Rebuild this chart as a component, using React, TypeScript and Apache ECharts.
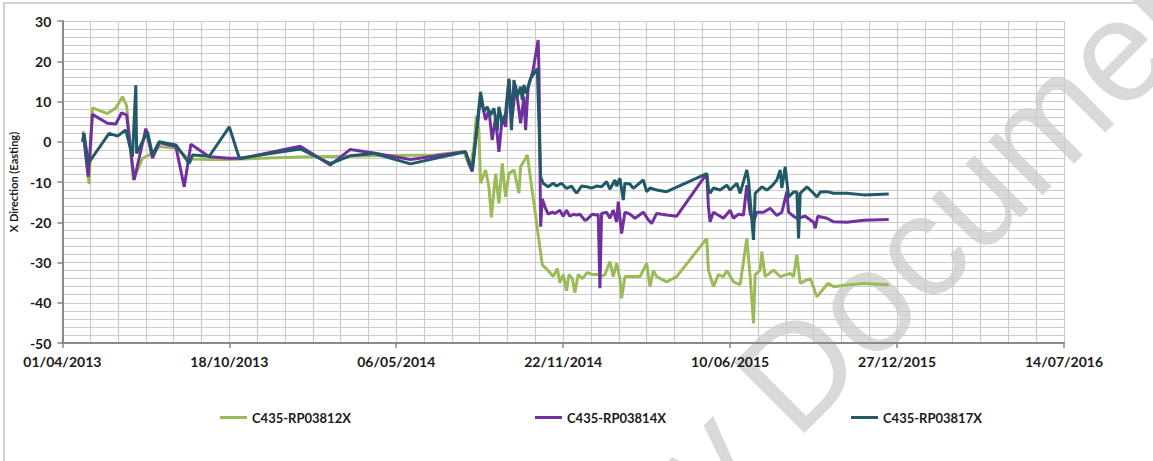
import React, { useEffect, useRef } from "react";
import * as echarts from "echarts";

// x values: days since 01/04/2013
const START_UTC = Date.UTC(2013, 3, 1);
const seriesNames = ["C435-RP03812X", "C435-RP03814X", "C435-RP03817X"];
const seriesColors = ["#9bbb59", "#7030a0", "#215968"];
const yAxisTitle = "X Direction (Easting)";
const watermarkText = "by Document";

const greenDays = [25, 32, 36, 54, 64, 72, 77, 85, 96, 108, 116, 136, 152, 177, 200, 285, 372, 444, 481, 489, 493, 496, 499, 501, 507, 511, 514, 519, 523, 527, 531, 535, 541, 547, 549, 555, 557, 575, 582, 588, 593, 596, 600, 604, 607, 611, 614, 618, 623, 629, 635, 641, 645, 650, 656, 660, 664, 668, 670, 674, 686, 692, 700, 704, 708, 712, 724, 736, 772, 774, 780, 786, 792, 796, 804, 812, 820, 824, 828, 830, 836, 838, 842, 852, 860, 872, 876, 880, 884, 890, 896, 904, 917, 924, 940, 960, 990];
const greenVals = [2.7, -10.5, 8.4, 7, 8.4, 11.2, 9, -9.5, -4.1, -2.9, -1.2, -1.6, -4.3, -4.4, -4.4, -3.8, -3.5, -3.3, -2.5, -6.5, -1.2, 6.4, 2.9, -10.3, -7, -11.2, -18.8, -7.9, -15.3, -5.4, -13.7, -7.9, -7, -12.8, -6.2, -4.1, -3.3, -30.6, -32, -33.5, -31.5, -35, -33, -37, -33, -34, -37.5, -33, -34, -32.5, -33, -33, -33.5, -33, -29.8, -33.5, -30.2, -34, -38.9, -33.5, -33.5, -33.5, -30.2, -36, -32, -33.5, -34.8, -33.5, -24, -31.9, -36, -33, -33.5, -32, -34.8, -35.5, -24, -33.5, -45.1, -33, -31.9, -27.3, -33.5, -31.9, -33.5, -32.7, -33.5, -28.1, -35.2, -34.5, -34, -38.5, -35.2, -36, -35.6, -35.2, -35.5];

const purpleDays = [25, 31, 36, 54, 64, 71, 77, 86, 100, 108, 116, 136, 146, 154, 176, 200, 216, 285, 321, 345, 373, 417, 483, 487, 491, 497, 501, 507, 511, 515, 519, 523, 527, 531, 535, 539, 543, 549, 553, 555, 558, 564, 570, 571, 573, 575, 578, 582, 587, 590, 596, 600, 604, 608, 612, 616, 620, 626, 628, 635, 640, 642, 644, 646, 652, 656, 660, 664, 666, 670, 674, 680, 686, 696, 702, 706, 712, 724, 736, 772, 774, 776, 780, 784, 792, 800, 804, 810, 816, 820, 824, 828, 832, 840, 848, 856, 862, 868, 870, 876, 880, 890, 900, 902, 905, 916, 924, 940, 960, 990];
const purpleVals = [2.2, -8.7, 6.8, 4.6, 4.4, 7.2, 6.6, -9.5, 3.3, -4.1, -0.2, -1.2, -11.2, -0.6, -3.7, -4.1, -4.1, -1.1, -5.8, -1.9, -2.8, -4.4, -2.5, -5.4, -7.4, 3.7, 11.2, 5.4, 7.9, 0.4, 6, -2.5, 6.2, 3.7, 15.3, 6.2, 14.1, 4.6, 11.2, 2.9, 13.7, 17.8, 25.3, 17.8, -21.1, -14.2, -16.1, -18, -17.5, -17.8, -17, -18.5, -17, -18.5, -18, -18.2, -18, -19.5, -19.4, -18, -18.2, -18, -36.4, -17.8, -17.5, -19, -17, -19.9, -14.9, -22.8, -17.5, -18, -19, -17.5, -19.4, -20.3, -17.8, -18.2, -18.5, -7.9, -16.1, -19.9, -17.5, -18, -19, -17, -19, -18, -18.2, -10.8, -17.8, -19.9, -17.5, -17.5, -16.5, -18.3, -17.5, -12.4, -17.5, -18.5, -19, -18.5, -20, -21.5, -18.5, -19, -19.9, -20, -19.5, -19.3];

const tealDays = [24, 26, 31, 56, 66, 76, 84, 88, 89, 102, 108, 116, 136, 152, 156, 176, 200, 212, 285, 321, 345, 373, 417, 483, 491, 495, 501, 505, 509, 513, 517, 521, 523, 527, 531, 535, 538, 541, 545, 549, 551, 553, 556, 561, 569, 573, 576, 582, 588, 592, 598, 604, 610, 616, 622, 628, 634, 640, 646, 652, 656, 662, 664, 668, 672, 674, 680, 684, 696, 700, 704, 712, 724, 772, 774, 776, 780, 788, 796, 800, 808, 812, 820, 822, 828, 830, 838, 844, 850, 856, 860, 862, 866, 870, 876, 880, 882, 884, 892, 900, 904, 908, 916, 924, 940, 960, 990];
const tealVals = [0, 2.1, -5.4, 2.1, 1.4, 2.9, -3.7, 14.1, -2.9, 2.5, -3.3, 0, -0.8, -5.4, -3.3, -3.6, 3.7, -4.1, -1.8, -5.4, -3.5, -2.9, -5.5, -2.5, -7, 0.4, 12.4, 7.5, 8.7, 6.6, 8.3, 2.9, 8.7, 4.6, 7.1, 15.7, 2.9, 15.3, 11.2, 13.7, 10.4, 14.1, 12, 15.7, 18.2, -8.7, -10.3, -11.2, -10.3, -11, -10.3, -11.6, -11, -12.8, -11, -11.2, -11.5, -11, -11.2, -9.9, -11.8, -9.5, -11, -9.1, -14.5, -10.3, -10.5, -11.6, -9.5, -12.4, -11.5, -12, -12.4, -7.9, -11.6, -12.8, -11.5, -12, -10.8, -12, -10.3, -12.8, -7, -9.5, -24.4, -12.8, -11.2, -12, -11, -9.5, -7, -11.5, -6.2, -13.7, -12.5, -12.5, -24, -12.8, -11.2, -12.8, -13.7, -12.5, -12.4, -12.8, -12.8, -13.2, -13];

const xMin = 0;
const xMax = 1200;
const xStep = 200;
const yMin = -50;
const yMax = 30;
const yStep = 10;
const legendLefts = [220, 535, 851];

const fmtDate = (d: number) => {
  const dt = new Date(START_UTC + Math.round(d) * 86400000);
  const dd = String(dt.getUTCDate()).padStart(2, "0");
  const mm = String(dt.getUTCMonth() + 1).padStart(2, "0");
  return `${dd}/${mm}/${dt.getUTCFullYear()}`;
};

const zip = (xs: number[], ys: number[]) => xs.map((x, i) => [x, ys[i]]);

export default function App() {
  const ref = useRef<HTMLDivElement>(null);
  useEffect(() => {
    if (!ref.current) return;
    const chart = echarts.init(ref.current, null, { renderer: "svg" });
    const font = "Lato";
    const gridColor = "#cbcbcb";
    const axisColor = "#898989";
    const data = [zip(greenDays, greenVals), zip(purpleDays, purpleVals), zip(tealDays, tealVals)];
    chart.setOption({
      animation: false,
      backgroundColor: "#ffffff",
      grid: { left: 62, right: 89, top: 21, bottom: 118, containLabel: false },
      xAxis: {
        type: "value",
        z: 2,
        min: xMin,
        max: xMax,
        interval: xStep,
        axisLine: { show: true, onZero: false, lineStyle: { color: axisColor, width: 2 } },
        axisTick: { show: true, length: 5, lineStyle: { color: axisColor, width: 1.5 } },
        axisLabel: {
          formatter: (v: number) => fmtDate(v),
          fontFamily: font,
          fontWeight: "bold",
          fontSize: 14,
          color: "#1a1a1a",
          margin: 11,
        },
        splitLine: { show: true, lineStyle: { color: gridColor, width: 1.2 } },
        minorTick: { show: false, splitNumber: 6 },
        minorSplitLine: { show: true, lineStyle: { color: gridColor, width: 1.2 } },
      },
      yAxis: {
        type: "value",
        z: 2,
        min: yMin,
        max: yMax,
        interval: yStep,
        name: yAxisTitle,
        nameLocation: "middle",
        nameRotate: 90,
        nameGap: 42,
        nameTextStyle: { fontFamily: font, fontWeight: "bold", fontSize: 11, color: "#1a1a1a" },
        axisLine: { show: true, lineStyle: { color: axisColor, width: 2 } },
        axisTick: { show: true, length: 5, lineStyle: { color: axisColor, width: 1.5 } },
        axisLabel: { fontFamily: font, fontWeight: "bold", fontSize: 14, color: "#1a1a1a", margin: 11 },
        splitLine: { show: true, lineStyle: { color: gridColor, width: 1.2 } },
        minorTick: { show: false, splitNumber: 5 },
        minorSplitLine: { show: true, lineStyle: { color: gridColor, width: 1.2 } },
      },
      legend: seriesNames.map((n, i) => ({
        data: [n],
        left: legendLefts[i],
        top: 411,
        padding: 0,
        z: 4,
        icon: "rect",
        itemWidth: 27,
        itemHeight: 3,
        selectedMode: false,
        textStyle: { fontFamily: font, fontWeight: "bold", fontSize: 13, color: "#1a1a1a" },
      })),
      graphic: [
        {
          type: "rect",
          z: 0,
          silent: true,
          shape: { x: 4, y: 3, width: 1300, height: 600 },
          style: { fill: "none", stroke: "#c4c4c4", lineWidth: 1.5 },
        },
        {
          type: "text",
          z: 1,
          silent: true,
          x: 624,
          y: 543,
          rotation: Math.PI / 4,
          style: {
            text: watermarkText,
            fill: "#d9d9d9",
            fontFamily: "Liberation Sans",
            fontSize: 145,
            textAlign: "left",
            textVerticalAlign: "middle",
          },
        },
      ],
      series: seriesNames.map((n, i) => ({
        name: n,
        type: "line",
        data: data[i],
        showSymbol: false,
        symbol: "none",
        z: 3 + i,
        lineStyle: { color: seriesColors[i], width: 3 },
        itemStyle: { color: seriesColors[i] },
      })),
    });
    return () => chart.dispose();
  }, []);
  return (
    <div
      ref={ref}
      style={{ position: "fixed", left: 0, top: 0, width: 1153, height: 461, background: "#fff" }}
    />
  );
}
